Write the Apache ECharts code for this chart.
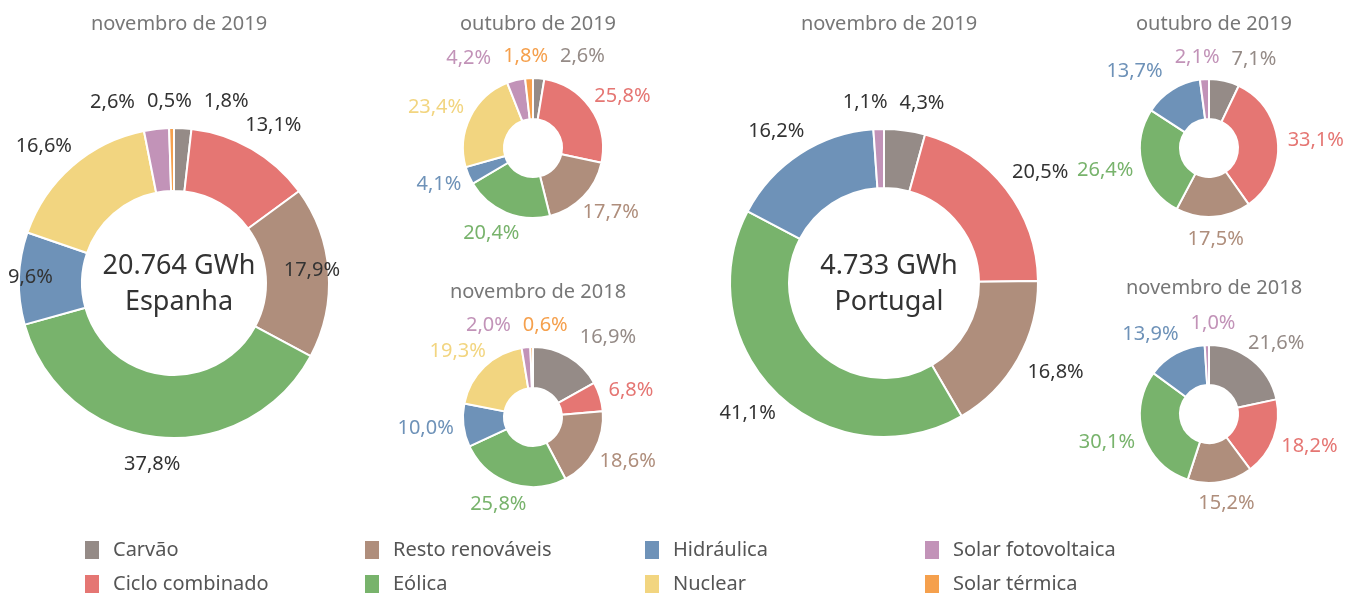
<!DOCTYPE html>
<html>
<head>
<meta charset="utf-8">
<script src="https://cdn.jsdelivr.net/npm/echarts@6/dist/echarts.min.js"></script>
<style>
  html, body { margin: 0; padding: 0; background: #fff; }
  #chart { width: 1372px; height: 594px; }
</style>
</head>
<body>
<div id="chart"></div>
<script>
// fontes de energia, na ordem dos setores (sentido horário a partir do topo)
var fontes = ['Carvão', 'Ciclo combinado', 'Resto renováveis', 'Eólica', 'Hidráulica', 'Nuclear', 'Solar fotovoltaica', 'Solar térmica'];
var cores = ['#958b87', '#e57673', '#af8e7c', '#78b36c', '#6e92b8', '#f2d580', '#c293b8', '#f5a04d'];

// percentagens (%)
var espNov2019 = [1.8, 13.1, 17.9, 37.8, 9.6, 16.6, 2.6, 0.5];
var espOut2019 = [2.6, 25.8, 17.7, 20.4, 4.1, 23.4, 4.2, 1.8];
var espNov2018 = [16.9, 6.8, 18.6, 25.8, 10.0, 19.3, 2.0, 0.6];
var ptNov2019 = [4.3, 20.5, 16.8, 41.1, 16.2, 0, 1.1, 0];
var ptOut2019 = [7.1, 33.1, 17.5, 26.4, 13.7, 0, 2.1, 0];
var ptNov2018 = [21.6, 18.2, 15.2, 30.1, 13.9, 0, 1.0, 0];

var totais = ['20.764 GWh', '4.733 GWh'];
var paises = ['Espanha', 'Portugal'];

var fonte = '"Noto Sans", sans-serif';
var tamRotulo = 20;

function dados(valores) {
    var out = [];
    valores.forEach(function (v, i) {
        if (v > 0) out.push({ name: fontes[i], value: v, itemStyle: { color: cores[i] } });
    });
    return out;
}

function txt(v) {
    return v.toFixed(1).replace('.', ',') + '%';
}
function fmt(p) { return txt(p.value); }

// posição dos rótulos: fora do anel, ao longo do ângulo médio de cada setor,
// afastando na horizontal os que se sobrepõem
var ctx = document.createElement('canvas').getContext('2d');
function posicoes(valores, cx, cy, r, g, limites) {
    ctx.font = tamRotulo + 'px "Noto Sans"';
    var vals = valores.filter(function (v) { return v > 0; });
    var total = vals.reduce(function (a, b) { return a + b; }, 0);
    var cum = 0;
    var itens = vals.map(function (v) {
        var a = (cum + v / 2) / total * 2 * Math.PI;
        cum += v;
        var w = ctx.measureText(txt(v)).width / 2, h = tamRotulo * 0.6;
        var s = Math.sin(a), c = Math.cos(a);
        return { x: cx + s * (r + g) + s * w, y: cy - c * (r + g) - c * h, w: w, h: h };
    });
    var folga = 12;
    for (var k = 0; k < 60; k++) {
        for (var i = 0; i < itens.length; i++) {
            for (var j = i + 1; j < itens.length; j++) {
                var A = itens[i], B = itens[j];
                var ox = A.w + B.w + folga - Math.abs(A.x - B.x);
                var oy = A.h + B.h - Math.abs(A.y - B.y);
                if (ox > 0.01 && oy > 0) {
                    var d = ox / 2;
                    if (A.x <= B.x) { A.x -= d; B.x += d; } else { A.x += d; B.x -= d; }
                }
            }
        }
    }
    if (limites) {
        itens.forEach(function (o) {
            o.x = Math.max(limites[0] + o.w, Math.min(limites[1] - o.w, o.x));
        });
    }
    return itens;
}

function serie(valores, cx, cy, r0, r, g, corRotulo, limites) {
    var pos = posicoes(valores, cx, cy, r, g, limites);
    return {
        type: 'pie',
        center: [cx, cy],
        radius: [r0, r],
        startAngle: 90,
        clockwise: true,
        avoidLabelOverlap: false,
        animation: false,
        itemStyle: { borderColor: '#fff', borderWidth: 2 },
        label: { show: true, position: 'outside', formatter: fmt, color: corRotulo, fontSize: tamRotulo, fontFamily: fonte },
        labelLine: { show: false },
        labelLayout: function (p) {
            var o = pos[p.dataIndex];
            return { x: o.x, y: o.y, align: 'center', verticalAlign: 'middle' };
        },
        emphasis: { disabled: true },
        data: dados(valores)
    };
}

function titulo(t, x, y) {
    return { text: t, left: x, top: y, textAlign: 'center',
        textStyle: { fontSize: 20, fontWeight: 'normal', color: '#777', fontFamily: fonte } };
}

function centro(i, x) {
    return { text: totais[i] + '\n' + paises[i], left: x, top: 243, textAlign: 'center',
        textStyle: { fontSize: 27, fontWeight: 'normal', color: '#333', lineHeight: 36, fontFamily: fonte } };
}

// legenda em 2 linhas x 4 colunas
var ordemLegenda = [0, 2, 4, 6, 1, 3, 5, 7];
var legendas = ordemLegenda.map(function (k, n) {
    return {
        left: 85 + (n % 4) * 280,
        top: 540 + Math.floor(n / 4) * 34,
        padding: 0,
        itemWidth: 14,
        itemHeight: 18,
        icon: 'rect',
        symbolKeepAspect: false,
        itemStyle: { borderWidth: 0 },
        selectedMode: false,
        textStyle: { fontSize: 20, lineHeight: 18, color: '#555', fontFamily: fonte, padding: [0, 0, 0, 9] },
        data: [{ name: fontes[k], itemStyle: { color: cores[k], borderWidth: 0 } }]
    };
});

var myChart = echarts.init(document.getElementById('chart'));
var option = {
    backgroundColor: '#fff',
    title: [
        titulo('novembro de 2019', 174, 9),
        titulo('outubro de 2019', 533, 9),
        titulo('novembro de 2018', 533, 277),
        titulo('novembro de 2019', 884, 9),
        titulo('outubro de 2019', 1209, 9),
        titulo('novembro de 2018', 1209, 273),
        centro(0, 174),
        centro(1, 884)
    ],
    legend: legendas,
    series: [
        serie(espNov2019, 174, 283, 92, 155, 15, '#333', [8, 340]),
        serie(espOut2019, 533, 148, 29, 70, 10, 'inherit'),
        serie(espNov2018, 533, 417, 29, 70, 10, 'inherit'),
        serie(ptNov2019, 884, 283, 95, 154, 15, '#333'),
        serie(ptOut2019, 1209, 148, 29, 69, 10, 'inherit'),
        serie(ptNov2018, 1209, 414, 29, 69, 10, 'inherit')
    ]
};
myChart.setOption(option);
window.addEventListener('resize', function () {
    myChart.resize();
});
</script>
</body>
</html>
